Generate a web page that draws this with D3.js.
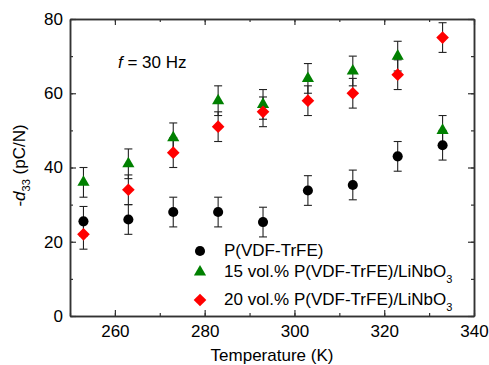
<!DOCTYPE html>
<html>
<head>
<meta charset="utf-8">
<script src="https://cdn.jsdelivr.net/npm/d3@7"></script>
<style>
  body { margin: 0; background: #fff; }
  text { font-family: 'Liberation Sans', Arial, sans-serif; fill: #000; }
</style>
</head>
<body>
<svg id="chart"></svg>
<script>
const temps = [253, 263, 273, 283, 293, 303, 313, 323, 333]
const pure = [25.5, 26, 28, 28, 25.3, 33.8, 35.3, 43, 46]
const vol15 = [36, 41, 48, 58, 57, 64, 66, 70, 50]
const vol20 = [22, 34, 44, 51, 55, 58, 60, 65, 75]
const errPure = [4, 4, 4, 4, 4, 4, 4, 4, 4]
const err15 = [4, 4, 4, 4, 4, 4, 4, 4, 4]
const err20 = [4, 4, 4, 4, 4, 4, 4, 4, 4]
const xTicks = [260, 280, 300, 320, 340]
const yTicks = [0, 20, 40, 60, 80]

const width = 489
const height = 365
const margin = { top: 19, right: 15, bottom: 49, left: 70 }
const _w = width - margin.left - margin.right
const _h = height - margin.top - margin.bottom
const fs = 17

const svg = d3.select('#chart').attr('width', width).attr('height', height)

const x = d3.scaleLinear().domain([250, 340]).range([margin.left, margin.left + _w])
const y = d3.scaleLinear().domain([0, 80]).range([margin.top + _h, margin.top])

const axisColor = '#333'

// frame + ticks (inward, mirrored)
const g = svg.append('g')
function tickAxis(axis, transform, labels) {
  const a = g.append('g').attr('transform', transform).call(axis)
  a.select('.domain').attr('stroke', axisColor).attr('stroke-width', 1.5)
  a.selectAll('.tick line').attr('stroke', axisColor).attr('stroke-width', 1.2)
  if (!labels) a.selectAll('.tick text').remove()
  else a.selectAll('.tick text').attr('font-size', fs).attr('fill', '#000')
  return a
}
const xMinor = d3.range(250, 341, 10)
const yMinor = d3.range(0, 81, 10)
// minor
tickAxis(d3.axisBottom(x).tickValues(xMinor).tickSize(-3).tickSizeOuter(0).tickFormat(''), `translate(0,${y(0)})`, false)
tickAxis(d3.axisTop(x).tickValues(xMinor).tickSize(-3).tickSizeOuter(0).tickFormat(''), `translate(0,${y(80)})`, false)
tickAxis(d3.axisLeft(y).tickValues(yMinor).tickSize(-3).tickSizeOuter(0).tickFormat(''), `translate(${x(250)},0)`, false)
tickAxis(d3.axisRight(y).tickValues(yMinor).tickSize(-3).tickSizeOuter(0).tickFormat(''), `translate(${x(340)},0)`, false)
// major
tickAxis(d3.axisBottom(x).tickValues(xTicks).tickSize(-6).tickSizeOuter(0).tickPadding(9), `translate(0,${y(0)})`, true)
tickAxis(d3.axisTop(x).tickValues(xTicks).tickSize(-6).tickSizeOuter(0), `translate(0,${y(80)})`, false)
tickAxis(d3.axisLeft(y).tickValues(yTicks).tickSize(-6).tickSizeOuter(0).tickPadding(7), `translate(${x(250)},0)`, true)
tickAxis(d3.axisRight(y).tickValues(yTicks).tickSize(-6).tickSizeOuter(0), `translate(${x(340)},0)`, false)

// series
const diamond = d3.symbol().type(d3.symbolSquare).size(80)
const series = [
  { vals: pure, err: errPure, color: '#000', sym: d3.symbol().type(d3.symbolCircle).size(80), rot: 0 },
  { vals: vol15, err: err15, color: '#008000', sym: d3.symbol().type(d3.symbolTriangle).size(64), rot: 0 },
  { vals: vol20, err: err20, color: '#ff0000', sym: diamond, rot: 45 }
]

const errG = svg.append('g').attr('stroke', '#222').attr('stroke-width', 1.1)
series.forEach((s) => {
  const pts = temps.map((t, i) => ({ t, v: s.vals[i], e: s.err[i] }))
  const eg = errG.append('g')
  eg.selectAll('line.v').data(pts).join('line')
    .attr('x1', (d) => x(d.t)).attr('x2', (d) => x(d.t))
    .attr('y1', (d) => y(d.v - d.e)).attr('y2', (d) => y(d.v + d.e))
  eg.selectAll('line.top').data(pts).join('line').attr('class', 'top')
    .attr('x1', (d) => x(d.t) - 4).attr('x2', (d) => x(d.t) + 4)
    .attr('y1', (d) => y(d.v + d.e)).attr('y2', (d) => y(d.v + d.e))
  eg.selectAll('line.bot').data(pts).join('line').attr('class', 'bot')
    .attr('x1', (d) => x(d.t) - 4).attr('x2', (d) => x(d.t) + 4)
    .attr('y1', (d) => y(d.v - d.e)).attr('y2', (d) => y(d.v - d.e))
})

series.forEach((s) => {
  svg.append('g').selectAll('path').data(temps.map((t, i) => ({ t, v: s.vals[i] })))
    .join('path')
    .attr('d', s.sym)
    .attr('transform', (d) => `translate(${x(d.t)},${y(d.v)}) rotate(${s.rot})`)
    .attr('fill', s.color)
})

// legend
const legend = [
  { label: 'P(VDF-TrFE)', sub: null, y: 251 },
  { label: '15 vol.% P(VDF-TrFE)/LiNbO', sub: '3', y: 272 },
  { label: '20 vol.% P(VDF-TrFE)/LiNbO', sub: '3', y: 300 }
]
legend.forEach((l, i) => {
  const s = series[i]
  svg.append('path')
    .attr('d', s.sym)
    .attr('transform', `translate(200,${l.y}) rotate(${s.rot})`)
    .attr('fill', s.color)
  const t = svg.append('text').attr('x', 224).attr('y', l.y + 5).attr('font-size', fs).text(l.label)
  if (l.sub) t.append('tspan').attr('dy', 6).attr('font-size', 11).text(l.sub)
})

// annotation
const ann = svg.append('text').attr('x', 118).attr('y', 68).attr('font-size', fs)
ann.append('tspan').attr('font-style', 'italic').text('f')
ann.append('tspan').text(' = 30 Hz')

// axis titles
svg.append('text').attr('x', x(295)).attr('y', 361).attr('text-anchor', 'middle').attr('font-size', fs)
  .text('Temperature (K)')
const yt = svg.append('text').attr('transform', `translate(25,${y(40) - 2}) rotate(-90)`)
  .attr('text-anchor', 'middle').attr('font-size', fs)
yt.append('tspan').text('-')
yt.append('tspan').attr('font-style', 'italic').text('d')
yt.append('tspan').attr('dy', 5).attr('font-size', 11).text('33')
yt.append('tspan').attr('dy', -5).text(' (pC/N)')
</script>
</body>
</html>
